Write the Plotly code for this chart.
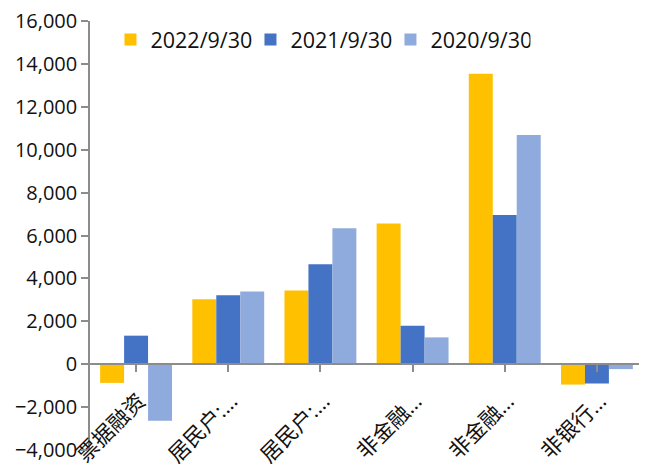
import plotly.graph_objects as go

categories = ["票据融资", "居民户：…", "居民户：…", "非金融…", "非金融…", "非银行…"]
tick_labels = ["票据融资", "居民户:…", "居民户:…", "非金融…", "非金融…", "非银行…"]
series_names = ["2022/9/30", "2021/9/30", "2020/9/30"]
v2022 = [-870, 3030, 3440, 6560, 13540, -950]
v2021 = [1330, 3220, 4660, 1790, 6950, -900]
v2020 = [-2640, 3390, 6340, 1250, 10690, -230]
colors = ["#FFC000", "#4472C4", "#8FAADC"]

x_ids = list(range(len(categories)))
fig = go.Figure()
for name, vals, c in zip(series_names, [v2022, v2021, v2020], colors):
    fig.add_trace(go.Bar(x=x_ids, y=vals, name=name, marker=dict(color=c, line=dict(width=0))))

font_family = "Open Sans, Noto Sans CJK SC, sans-serif"
axis_grey = "#8c8c8c"
# the page body has a default 8px margin, so the margins here are offset by 8px
fig.update_layout(
    width=647, height=471,
    barmode="group", bargap=0.22, bargroupgap=0,
    plot_bgcolor="white", paper_bgcolor="white",
    margin=dict(l=82, r=12, t=13, b=29, autoexpand=False),
    font=dict(family=font_family, size=20, color="#111111"),
    showlegend=True,
    legend=dict(orientation="h", x=0.037, y=0.957, xanchor="left", yanchor="middle",
                font=dict(size=21.5), traceorder="normal", bgcolor="rgba(0,0,0,0)",
                entrywidth=95, entrywidthmode="pixels"),
    xaxis=dict(
        tickmode="array", tickvals=x_ids, ticktext=tick_labels,
        tickangle=-45, tickson="boundaries", ticks="outside", ticklen=7,
        tickcolor=axis_grey, tickwidth=1.5, showline=True, linecolor=axis_grey, linewidth=1.5,
        anchor="free", position=0.2, showgrid=False, zeroline=False,
        range=[-0.5, 5.5], tickfont=dict(size=21.5), automargin=False,
        ticklabelshift=3, ticklabelstandoff=8, ticklabeloverflow="allow",
    ),
    yaxis=dict(
        range=[-4000, 16000], dtick=2000, tickformat=",d",
        ticks="outside", ticklen=7, tickcolor=axis_grey, tickwidth=1.5,
        showline=True, linecolor=axis_grey, linewidth=1.5,
        showgrid=False, zeroline=False, tickfont=dict(size=20), automargin=False,
        ticklabeloverflow="allow",
    ),
)
fig.write_html("out.html")
